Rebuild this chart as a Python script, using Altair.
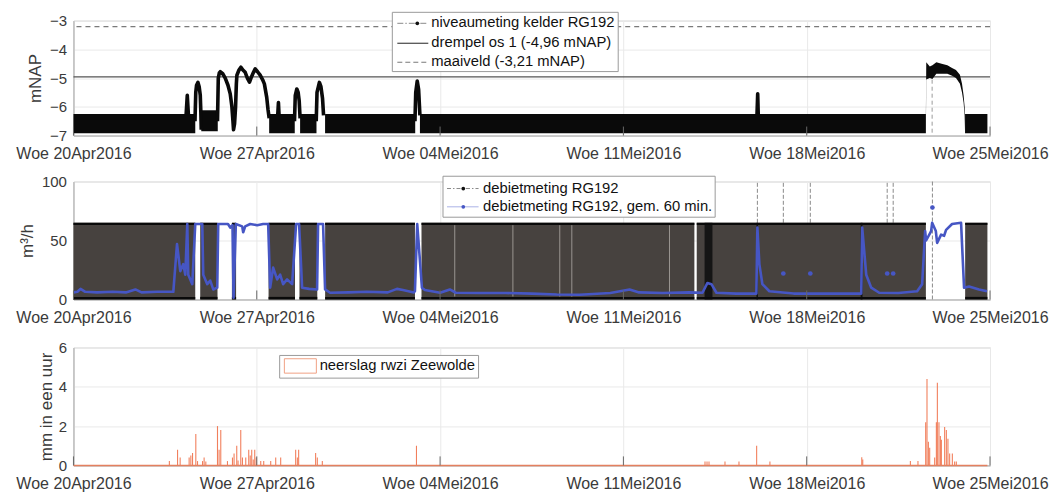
import altair as alt
import pandas as pd

FONT = "Liberation Sans"
T0 = pd.Timestamp("2016-04-20 00:00:00")

# ---------------- data (days after Wed 20 Apr 2016 00:00) ----------------
tick_days = [0, 7, 14, 21, 28, 35]

# panel 1: level (mNAP)
threshold_vals = [-4.96, -3.21]
threshold_kind = ["drempel", "maaiveld"]

band_start = [0.0, 4.88, 7.473, 8.654, 9.608, 13.23, 34.046]
band_end = [4.651, 5.51, 8.45, 9.28, 13.05, 32.55, 34.9]
band_lo = [-6.92, -6.85, -6.92, -6.92, -6.92, -6.92, -6.92]
band_hi = [-6.25, -6.12, -6.25, -6.25, -6.25, -6.25, -6.25]

level_peaks = [
    (1, 4.30, -6.3), (1, 4.346, -5.6), (1, 4.39, -6.3),
    (2, 4.64, -6.5), (2, 4.67, -5.5), (2, 4.70, -5.25), (2, 4.754, -5.15), (2, 4.80, -5.3),
    (2, 4.842, -5.6), (2, 4.865, -6.2), (2, 4.88, -6.8),
    (3, 5.50, -6.5), (3, 5.53, -5.0), (3, 5.57, -4.82), (3, 5.604, -4.78), (3, 5.70, -4.85),
    (3, 5.795, -5.0), (3, 5.90, -5.25), (3, 5.986, -5.55), (3, 6.05, -6.0), (3, 6.09, -6.5),
    (3, 6.112, -6.8), (3, 6.15, -6.6), (3, 6.19, -6.0), (3, 6.22, -5.2), (3, 6.241, -4.9),
    (3, 6.32, -4.72), (3, 6.394, -4.62), (3, 6.47, -4.72), (3, 6.558, -4.8), (3, 6.64, -5.0),
    (3, 6.722, -5.14), (3, 6.80, -4.95), (3, 6.874, -4.8), (3, 6.94, -4.68), (3, 7.03, -4.78),
    (3, 7.13, -4.9), (3, 7.22, -5.05), (3, 7.29, -5.2), (3, 7.38, -5.67), (3, 7.43, -6.1),
    (3, 7.473, -6.4),
    (4, 7.80, -6.3), (4, 7.827, -5.85), (4, 7.85, -6.3),
    (5, 8.44, -6.5), (5, 8.47, -5.6), (5, 8.529, -5.38), (5, 8.58, -5.5), (5, 8.62, -5.8), (5, 8.654, -6.4),
    (6, 9.27, -6.5), (6, 9.30, -5.5), (6, 9.391, -5.15), (6, 9.45, -5.3), (6, 9.51, -5.7), (6, 9.55, -6.3),
    (7, 13.04, -6.5), (7, 13.07, -5.5), (7, 13.127, -5.1), (7, 13.18, -5.4), (7, 13.23, -6.3),
    (8, 26.10, -6.3), (8, 26.128, -5.55), (8, 26.15, -6.3),
]

high_day = [32.55, 32.565, 32.70, 32.80, 32.95, 33.15, 33.37, 33.55, 33.70, 33.85, 33.93, 33.99, 34.03, 34.046]
high_lo = [-6.9, -5.05, -5.0, -5.03, -4.85, -4.85, -4.85, -4.92, -5.0, -5.2, -5.5, -5.85, -6.3, -6.9]
high_hi = [-6.3, -4.45, -4.6, -4.55, -4.45, -4.5, -4.55, -4.65, -4.72, -4.88, -5.2, -5.6, -6.0, -6.3]

level_gap_day = [32.789]

# panel 2: flow (m3/h)
flow_start = [0.0, 4.84, 6.05, 7.45, 8.63, 9.61, 13.29, 23.80, 34.05]
flow_end = [4.65, 5.50, 6.21, 8.46, 9.31, 13.04, 23.71, 32.55, 34.9]
flow_max = 65
flow_dark_start = [24.10, 26.08, 30.06]
flow_dark_end = [24.40, 26.14, 30.13]
flow_light_days = [14.56, 16.78, 18.57, 19.03, 22.76]
flow_spike_days = [26.116, 27.107, 28.137, 31.073, 31.302, 32.80]
flow_spike_low = [65, 65, 65, 65, 65, 0]

blue_points = [
    (0.0, 6), (0.15, 6.5), (0.27, 9), (0.45, 6.5), (0.9, 6), (1.5, 6.5), (2.0, 6), (2.364, 8.5),
    (2.6, 6), (3.2, 6.5), (3.813, 6.5), (3.954, 47), (4.079, 24), (4.194, 30), (4.27, 21),
    (4.346, 64), (4.384, 21), (4.537, 13), (4.651, 64), (4.918, 64), (4.956, 21), (5.109, 13),
    (5.223, 16), (5.338, 8.5), (5.49, 10), (5.528, 64), (5.90, 64), (5.986, 61), (6.074, 63),
    (6.112, 1.5), (6.20, 64), (6.443, 62), (6.481, 57), (6.558, 62), (6.748, 64), (7.015, 63),
    (7.244, 64), (7.435, 64), (7.511, 10), (7.625, 27), (7.778, 17), (7.892, 21), (8.006, 13),
    (8.159, 17), (8.35, 13), (8.502, 64), (8.616, 64), (8.731, 10), (9.0, 9), (9.303, 8.5),
    (9.341, 64), (9.531, 64), (9.608, 8.5), (9.798, 5.7), (10.5, 6), (11.2, 6.5), (12.0, 6),
    (12.353, 9), (12.582, 8), (13.0, 6), (13.039, 7), (13.127, 64), (13.306, 10), (13.42, 8),
    (14.0, 5.7), (14.373, 8.5), (14.6, 5.7), (15.5, 5.5), (16.5, 5.5), (17.5, 5), (18.453, 4.2),
    (19.33, 4), (20.5, 5.5), (21.236, 8.5), (21.6, 6), (22.5, 5.5), (23.5, 6), (24.019, 5.7),
    (24.21, 14), (24.362, 13), (24.553, 5.7), (25.3, 5), (26.078, 5), (26.116, 61), (26.192, 30),
    (26.307, 13), (26.574, 7), (27.5, 5), (28.5, 5), (29.5, 5), (30.081, 5), (30.119, 61),
    (30.272, 21), (30.463, 10), (30.768, 5.7), (31.5, 5.5), (32.217, 7), (32.407, 13),
    (32.522, 58), (32.56, 50), (32.751, 58), (32.789, 65), (32.93, 58), (32.98, 48), (33.132, 55),
    (33.246, 54), (33.322, 59), (33.551, 64), (33.894, 65), (34.008, 10), (34.199, 11),
    (34.58, 8.5), (34.885, 7),
]
blue_dot_day = [27.107, 28.137, 31.073, 31.302, 32.80]
blue_dot_val = [22, 22, 22, 22, 78]

# panel 3: rain (mm per hour)
rain_points = [
    (3.641, 0.22), (3.954, 0.8), (4.053, 0.4), (4.396, 0.4), (4.461, 0.5), (4.526, 0.63),
    (4.651, 1.6), (4.716, 0.22), (4.907, 0.22), (4.968, 0.4), (5.033, 0.2), (5.479, 2.0),
    (5.540, 0.8), (5.604, 1.8), (5.860, 0.22), (6.051, 0.4), (6.112, 0.6), (6.214, 1.0),
    (6.264, 0.25), (6.367, 1.8), (6.432, 0.4), (6.558, 0.4), (6.672, 0.8), (6.729, 0.5),
    (6.786, 0.8), (6.844, 0.3), (6.901, 0.8), (6.958, 0.4), (7.130, 0.22), (7.244, 0.22),
    (7.511, 0.22), (7.702, 0.4), (7.892, 0.4), (8.464, 0.8), (8.529, 0.4), (8.578, 0.8),
    (9.226, 0.63), (9.291, 0.4), (9.482, 0.22), (13.077, 1.0), (24.095, 0.2), (24.172, 0.2),
    (24.248, 0.2), (24.858, 0.2), (25.392, 0.2), (26.067, 1.0), (26.574, 0.2), (30.081, 0.42),
    (30.119, 0.3), (31.938, 0.22), (32.227, 0.22), (32.522, 2.2), (32.572, 4.4), (32.625, 1.2),
    (32.675, 0.9), (32.865, 0.4), (32.930, 2.2), (32.968, 4.2), (33.029, 2.2), (33.083, 1.5),
    (33.121, 1.3), (33.246, 1.95), (33.311, 1.8), (33.372, 1.35), (33.437, 0.6), (33.540, 0.6),
    (33.627, 0.2), (33.692, 0.2),
]

legend1_labels = ["niveaumeting kelder RG192", "drempel os 1 (-4,96 mNAP)", "maaiveld (-3,21 mNAP)"]
legend2_labels = ["debietmeting RG192", "debietmeting RG192, gem. 60 min."]
legend3_labels = ["neerslag rwzi Zeewolde"]


# ---------------- helpers ----------------
def ts(days):
    return [T0 + pd.Timedelta(days=float(d)) for d in days]


W = 917
H1, H2, H3 = 115, 118, 118
TXT = "#3a3a3a"

tick_dates = ts(tick_days)
x_scale = alt.Scale(domain=[alt.DateTime(year=2016, month=4, date=20),
                            alt.DateTime(year=2016, month=5, date=25)])
x_axis = alt.Axis(
    values=[alt.DateTime(year=d.year, month=d.month, date=d.day) for d in tick_dates],
    labelExpr="'Woe ' + timeFormat(datum.value, '%d') + (month(datum.value) == 3 ? 'Apr' : 'Mei') + timeFormat(datum.value, '%Y')",
    labelFlush=False, labelOverlap=False, labelPadding=10, labelFontSize=16,
    labelColor=TXT, ticks=False, grid=True, gridColor="#e9e9e9", domainColor="#aaaaaa",
)


def X(field):
    return alt.X(f"{field}:T", scale=x_scale, axis=x_axis, title=None)


def make_y(domain, values, title, tpad):
    sc = alt.Scale(domain=domain, nice=False, zero=False)
    ax = alt.Axis(values=values, title=title, titleFontSize=17, titleFontWeight="normal",
                  titleColor=TXT, titlePadding=tpad, labelFontSize=15, labelColor=TXT,
                  labelPadding=7, ticks=False, grid=True, gridColor="#e9e9e9",
                  domainColor="#aaaaaa", format="d")

    def Y(field):
        return alt.Y(f"{field}:Q", scale=sc, axis=ax)
    return Y


one = pd.DataFrame({"k": [0]})


def lg_box(x1, x2, y1, y2, stroke="#9a9a9a", fill="white"):
    return alt.Chart(one).mark_rect(fill=fill, stroke=stroke, strokeWidth=1).encode(
        x=alt.value(x1), x2=alt.value(x2), y=alt.value(y1), y2=alt.value(y2))


def lg_line(x1, x2, y, color, width=1.0, dash=None):
    kw = dict(color=color, strokeWidth=width)
    if dash:
        kw["strokeDash"] = dash
    return alt.Chart(one).mark_rule(**kw).encode(x=alt.value(x1), x2=alt.value(x2), y=alt.value(y))


def lg_dot(x, y, color, size=14):
    return alt.Chart(one).mark_point(filled=True, color=color, size=size, opacity=1).encode(
        x=alt.value(x), y=alt.value(y))


def lg_text(s, x, y):
    return alt.Chart(one).mark_text(text=s, align="left", baseline="middle", fontSize=14.8,
                                    font=FONT, color="#111111").encode(x=alt.value(x), y=alt.value(y))


tick_df = pd.DataFrame({"t": tick_dates})


def inner_ticks(h):
    return alt.Chart(tick_df).mark_rule(color="#666666", strokeWidth=1).encode(
        x=X("t"), y=alt.value(h), y2=alt.value(h - 9))


# ---------------- panel 1 ----------------
Y1 = make_y([-7, -3], [-7, -6, -5, -4, -3], "mNAP", 5)

band_df = pd.DataFrame({"t0": ts(band_start), "t1": ts(band_end), "lo": band_lo, "hi": band_hi})
peak_df = pd.DataFrame({"seg": [p[0] for p in level_peaks], "t": ts([p[1] for p in level_peaks]),
                        "v": [p[2] for p in level_peaks]})
high_df = pd.DataFrame({"t": ts(high_day), "lo": high_lo, "hi": high_hi})
thr_df = pd.DataFrame({"v": threshold_vals, "kind": threshold_kind})
gap_df = pd.DataFrame({"t": ts(level_gap_day), "lo": [-6.9], "hi": [-4.6]})

thr_solid = alt.Chart(thr_df[thr_df.kind == "drempel"]).mark_rule(color="#555555", strokeWidth=1.3).encode(y=Y1("v"))
thr_dash = alt.Chart(thr_df[thr_df.kind == "maaiveld"]).mark_rule(
    color="#7a7a7a", strokeWidth=1.1, strokeDash=[5, 4]).encode(y=Y1("v"))
gap_rule = alt.Chart(gap_df).mark_rule(color="#9a9a9a", strokeWidth=1, strokeDash=[4, 3]).encode(
    x=X("t"), y=Y1("lo"), y2="hi")
band_rect = alt.Chart(band_df).mark_rect(color="#0a0a0a").encode(x=X("t0"), x2="t1", y=Y1("lo"), y2="hi")
peak_line = alt.Chart(peak_df).mark_line(color="#0a0a0a", strokeWidth=3.6, strokeJoin="round").encode(
    x=X("t"), y=Y1("v"), detail="seg:N")
high_area = alt.Chart(high_df).mark_area(color="#0a0a0a").encode(x=X("t"), y=Y1("lo"), y2="hi")

leg1 = [
    lg_box(319, 545, -8.3, 51),
    lg_line(324, 355, 2.7, "#8a8a8a", 1, [6, 2, 1.5, 2]), lg_dot(344, 2.7, "#111111"),
    lg_line(324, 355, 22.7, "#555555", 1.3),
    lg_line(324, 355, 41.7, "#7a7a7a", 1.1, [5, 3]),
    lg_text(legend1_labels[0], 358, 2.7), lg_text(legend1_labels[1], 358, 22.7),
    lg_text(legend1_labels[2], 358, 41.7),
]

p1 = alt.layer(thr_solid, thr_dash, gap_rule, band_rect, high_area, peak_line, inner_ticks(H1),
               *leg1).properties(width=W, height=H1)

# ---------------- panel 2 ----------------
Y2 = make_y([0, 100], [0, 50, 100], "m³/h", 5)

flow_df = pd.DataFrame({"t0": ts(flow_start), "t1": ts(flow_end), "lo": [0] * len(flow_start),
                        "hi": [flow_max] * len(flow_start),
                        "top0": [flow_max - 1.8] * len(flow_start),
                        "bot1": [2.2] * len(flow_start)})
dark_df = pd.DataFrame({"t0": ts(flow_dark_start), "t1": ts(flow_dark_end),
                        "lo": [0] * len(flow_dark_start), "hi": [flow_max] * len(flow_dark_start)})
light_df = pd.DataFrame({"t": ts(flow_light_days), "lo": [2.5] * len(flow_light_days),
                         "hi": [flow_max - 2] * len(flow_light_days)})
spike_df = pd.DataFrame({"t": ts(flow_spike_days), "lo": flow_spike_low, "hi": [100] * len(flow_spike_days)})
blue_df = pd.DataFrame({"t": ts([p[0] for p in blue_points]), "v": [p[1] for p in blue_points]})
bdot_df = pd.DataFrame({"t": ts(blue_dot_day), "v": blue_dot_val})

spike_rule = alt.Chart(spike_df).mark_rule(color="#8a8a8a", strokeWidth=1, strokeDash=[4, 2]).encode(
    x=X("t"), y=Y2("lo"), y2="hi")
flow_rect = alt.Chart(flow_df).mark_rect(color="#47423f").encode(x=X("t0"), x2="t1", y=Y2("lo"), y2="hi")
flow_top = alt.Chart(flow_df).mark_rect(color="#0a0a0a").encode(x=X("t0"), x2="t1", y=Y2("top0"), y2="hi")
flow_bot = alt.Chart(flow_df).mark_rect(color="#0a0a0a").encode(x=X("t0"), x2="t1", y=Y2("lo"), y2="bot1")
dark_rect = alt.Chart(dark_df).mark_rect(color="#151515").encode(x=X("t0"), x2="t1", y=Y2("lo"), y2="hi")
light_rule = alt.Chart(light_df).mark_rule(color="#9a9591", strokeWidth=1).encode(
    x=X("t"), y=Y2("lo"), y2="hi")
blue_line = alt.Chart(blue_df).mark_line(color="#4656c4", strokeWidth=2.6, strokeJoin="round").encode(
    x=X("t"), y=Y2("v"))
blue_dots = alt.Chart(bdot_df).mark_point(filled=True, color="#4656c4", size=22, opacity=1).encode(
    x=X("t"), y=Y2("v"))

leg2 = [
    lg_box(369.7, 642, -5.3, 35.7),
    lg_line(373.7, 405.3, 7, "#8a8a8a", 1, [4, 2, 1.5, 2]), lg_dot(390, 7, "#111111"),
    lg_line(373.7, 405.3, 25.3, "#aab2e6", 1), lg_dot(390, 25.3, "#4656c4"),
    lg_text(legend2_labels[0], 409.7, 7), lg_text(legend2_labels[1], 409.7, 25.3),
]

p2 = alt.layer(spike_rule, flow_rect, dark_rect, light_rule, flow_top, flow_bot, blue_line, blue_dots,
               inner_ticks(H2), *leg2).properties(width=W, height=H2)

# ---------------- panel 3 ----------------
Y3 = make_y([0, 6], [0, 2, 4, 6], "mm in een uur", 3)

rain_df = pd.DataFrame({"t0": ts([p[0] for p in rain_points]),
                        "t1": ts([p[0] + 1.0 / 24 for p in rain_points]),
                        "v": [p[1] for p in rain_points]})
rain_df["z"] = 0.0
base_df = pd.DataFrame({"t0": ts([0]), "t1": ts([34.9]), "z": [0.0]})

rain_bar = alt.Chart(rain_df).mark_rect(color="#ee6840", opacity=0.85).encode(
    x=X("t0"), x2="t1", y=Y3("z"), y2="v")
rain_base = alt.Chart(base_df).mark_rule(color="#e4805f", strokeWidth=1.5).encode(
    x=X("t0"), x2="t1", y=Y3("z"))

leg3 = [
    lg_box(206.3, 405.3, 8, 30.7),
    lg_box(211, 243, 11.3, 25.7, stroke="#f0a184"),
    lg_text(legend3_labels[0], 246.3, 19),
]

p3 = alt.layer(rain_bar, rain_base, inner_ticks(H3), *leg3).properties(width=W, height=H3)

chart = alt.vconcat(alt.vconcat(p1, p2, spacing=11), p3, spacing=13).configure(
    font=FONT, padding={"left": 6.5, "top": 2.5, "right": 5, "bottom": 2}, background="white"
).configure_view(stroke="#d0d0d0")

chart.save("out.html", embed_options={"renderer": "svg", "actions": False})
